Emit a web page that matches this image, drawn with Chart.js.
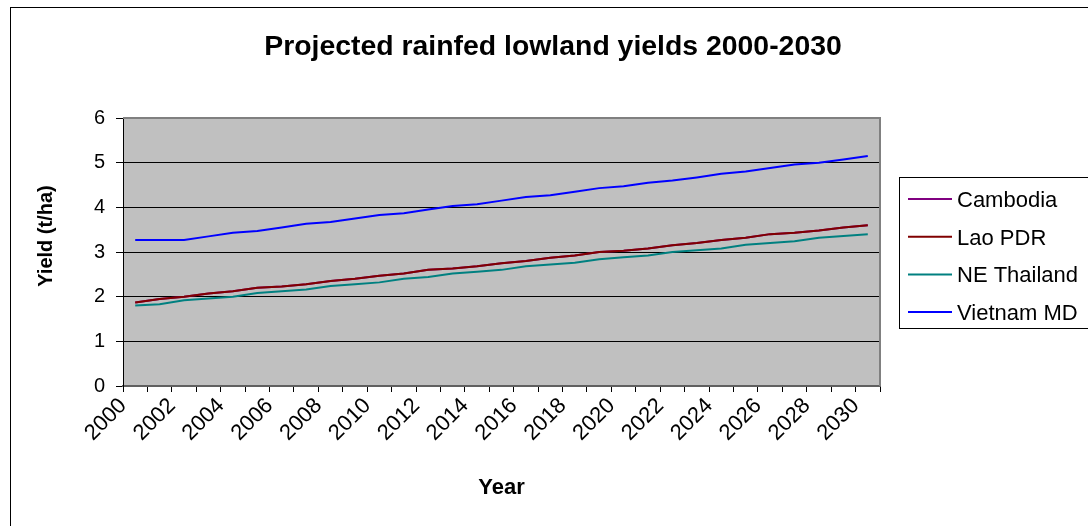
<!DOCTYPE html>
<html>
<head>
<meta charset="utf-8">
<script src="https://cdn.jsdelivr.net/npm/chart.js@4/dist/chart.umd.min.js"></script>
<style>
  html, body { margin: 0; padding: 0; background: #ffffff; }
  canvas { display: block; }
</style>
</head>
<body>
<canvas id="c" width="1088" height="526"></canvas>
<script>
// Years on the category axis
const years = ['2000','2001','2002','2003','2004','2005','2006','2007','2008','2009','2010',
               '2011','2012','2013','2014','2015','2016','2017','2018','2019','2020',
               '2021','2022','2023','2024','2025','2026','2027','2028','2029','2030'];

// Projected yields (t/ha)
const cambodia = [1.87,1.95,2.00,2.07,2.12,2.20,2.23,2.28,2.35,2.40,2.47,2.52,2.60,2.63,2.68,2.75,
                  2.80,2.87,2.92,3.00,3.03,3.08,3.15,3.20,3.27,3.32,3.40,3.43,3.48,3.55,3.60];
const laoPDR   = [1.87,1.95,2.00,2.07,2.12,2.20,2.23,2.28,2.35,2.40,2.47,2.52,2.60,2.63,2.68,2.75,
                  2.80,2.87,2.92,3.00,3.03,3.08,3.15,3.20,3.27,3.32,3.40,3.43,3.48,3.55,3.60];
const neThailand = [1.80,1.83,1.92,1.96,2.00,2.08,2.12,2.16,2.24,2.28,2.32,2.40,2.44,2.52,2.56,2.60,
                    2.68,2.72,2.76,2.84,2.88,2.92,3.00,3.04,3.08,3.16,3.20,3.24,3.32,3.36,3.40];
const vietnamMD  = [3.27,3.27,3.27,3.35,3.43,3.47,3.55,3.63,3.67,3.75,3.83,3.87,3.95,4.03,4.07,4.15,
                    4.23,4.27,4.35,4.43,4.47,4.55,4.60,4.67,4.75,4.80,4.88,4.96,5.00,5.07,5.15];

const yTicks = [0, 1, 2, 3, 4, 5, 6];

const FONT = '"Liberation Sans", Arial, sans-serif';

// Grey plot area, outer frame, titles and boxed legend
const frame = {
  id: 'frame',
  beforeDraw(chart) {
    const { ctx, chartArea: a } = chart;
    ctx.save();
    ctx.fillStyle = '#ffffff';
    ctx.fillRect(0, 0, chart.width, chart.height);
    ctx.fillStyle = '#c0c0c0';
    ctx.fillRect(a.left, a.top, a.right - a.left, a.bottom - a.top);
    ctx.restore();
  },
  beforeDatasetsDraw(chart) {
    const { ctx, chartArea: a } = chart;
    ctx.save();
    ctx.strokeStyle = '#808080';
    ctx.lineWidth = 2;
    ctx.beginPath();
    ctx.moveTo(a.left, a.top);
    ctx.lineTo(a.right, a.top);
    ctx.lineTo(a.right, a.bottom);
    ctx.stroke();
    ctx.restore();
  },
  afterDraw(chart) {
    const { ctx } = chart;
    ctx.save();
    // outer frame
    ctx.strokeStyle = '#000000';
    ctx.lineWidth = 1;
    ctx.strokeRect(10.5, 7.5, 1200, 700);
    // chart title
    ctx.fillStyle = '#000000';
    ctx.font = 'bold 28.4px ' + FONT;
    ctx.textAlign = 'center';
    ctx.textBaseline = 'alphabetic';
    ctx.fillText('Projected rainfed lowland yields 2000-2030', 553, 55);
    // value axis title
    ctx.save();
    ctx.translate(46, 236);
    ctx.rotate(-Math.PI / 2);
    ctx.font = 'bold 20px ' + FONT;
    ctx.textBaseline = 'middle';
    ctx.fillText('Yield (t/ha)', 0, 0);
    ctx.restore();
    // legend
    ctx.strokeStyle = '#000000';
    ctx.lineWidth = 1;
    ctx.strokeRect(899.5, 177.5, 300, 151);
    ctx.font = '22px ' + FONT;
    ctx.textAlign = 'left';
    ctx.textBaseline = 'alphabetic';
    chart.data.datasets.forEach((ds, i) => {
      const y = 199 + i * 37.7;
      ctx.strokeStyle = ds.borderColor;
      ctx.lineWidth = 2;
      ctx.beginPath();
      ctx.moveTo(908, y);
      ctx.lineTo(952, y);
      ctx.stroke();
      ctx.fillStyle = '#000000';
      ctx.fillText(ds.label, 957, y + 8);
    });
    ctx.restore();
  }
};

new Chart(document.getElementById('c'), {
  type: 'line',
  data: {
    labels: years,
    datasets: [
      { label: 'Cambodia',    data: cambodia,   borderColor: '#800080', order: 3 },
      { label: 'Lao PDR',     data: laoPDR,     borderColor: '#800000', order: 2 },
      { label: 'NE Thailand', data: neThailand, borderColor: '#008080', order: 1 },
      { label: 'Vietnam MD',  data: vietnamMD,  borderColor: '#0000ff', order: 0 }
    ]
  },
  options: {
    responsive: false,
    devicePixelRatio: 1,
    animation: false,
    layout: { padding: { top: 118, right: 208, left: 0, bottom: 0 } },
    elements: {
      line: { borderWidth: 2, tension: 0, fill: false },
      point: { radius: 0, hoverRadius: 0 }
    },
    plugins: {
      legend: { display: false },
      title: { display: false },
      tooltip: { enabled: false }
    },
    scales: {
      x: {
        type: 'category',
        offset: true,
        afterFit(scale) { scale.height = 140; },
        grid: {
          offset: true,
          drawOnChartArea: false,
          drawTicks: true,
          tickLength: 6,
          color: '#000000',
          lineWidth: 1
        },
        border: { color: '#606060', width: 2 },
        ticks: {
          autoSkip: false,
          minRotation: 45,
          maxRotation: 45,
          padding: 1,
          labelOffset: -12,
          color: '#000000',
          font: { family: FONT, size: 22 },
          callback(value, index) { return index % 2 === 0 ? years[index] : ''; }
        },
        title: {
          display: true,
          text: 'Year',
          color: '#000000',
          font: { family: FONT, size: 22, weight: 'bold' },
          padding: { top: 25, bottom: 25 }
        }
      },
      y: {
        min: 0,
        max: 6,
        afterFit(scale) { scale.width = 123; },
        afterBuildTicks(scale) { scale.ticks = yTicks.map(v => ({ value: v })); },
        grid: {
          color: '#000000',
          lineWidth: 1,
          drawTicks: true,
          tickLength: 7
        },
        border: { color: '#000000', width: 1 },
        ticks: {
          padding: 11,
          color: '#000000',
          font: { family: FONT, size: 20 }
        },
        title: { display: false }
      }
    }
  },
  plugins: [frame]
});
</script>
</body>
</html>
